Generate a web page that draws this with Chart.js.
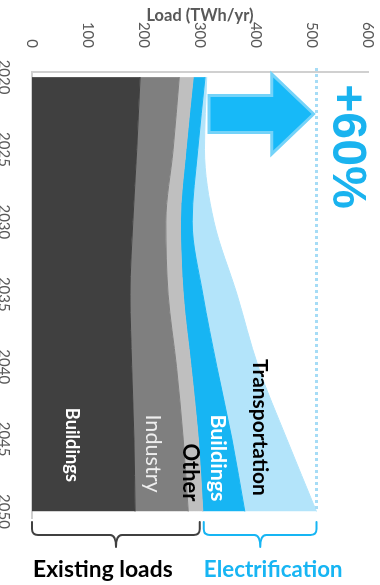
<!DOCTYPE html>
<html>
<head>
<meta charset="utf-8">
<title>Load growth 2020-2050</title>
<script src="https://cdn.jsdelivr.net/npm/chart.js@4.4.1/dist/chart.umd.min.js"></script>
<style>
  html, body { margin: 0; padding: 0; background: #fff; overflow: hidden; }
  /* the chart is drawn lying down (years left to right) and turned a quarter clockwise */
  #wrap {
    position: absolute; left: 0; top: 0;
    width: 585px; height: 380px;
    transform-origin: 0 0;
    transform: translate(380px, 0) rotate(90deg);
  }
</style>
</head>
<body>
<div id="wrap"><canvas id="chart" width="585" height="380"></canvas></div>
<script>
(function () {
  'use strict';

  // ----------------------------------------------------------
  // Data (TWh/yr)
  // ----------------------------------------------------------
  const years             = [2020, 2025, 2030, 2035, 2040, 2045, 2050];
  const existingBuildings = [193, 187, 180, 175, 178, 182, 184];
  const industry          = [70, 65, 59, 68, 80, 88, 95];
  const other             = [25, 23, 26, 27, 26, 27, 26];
  const electricBuildings = [21, 21, 21, 35, 46, 60, 75];
  const transportation    = [3, 12, 39, 61, 74, 98, 128];

  const yearTicks = [2020, 2025, 2030, 2035, 2040, 2045, 2050];
  const loadTicks = [0, 100, 200, 300, 400, 500, 600];

  const BLUE       = '#17b5f3';
  const LIGHT_BLUE = '#b3e4fa';
  const GRAY_TEXT  = '#595959';
  const FAMILY     = 'Lato, "Open Sans", sans-serif';

  const series = [
    { label: 'Buildings',      data: existingBuildings, color: '#404040' },
    { label: 'Industry',       data: industry,          color: '#7f7f7f' },
    { label: 'Other',          data: other,             color: '#bfbfbf' },
    { label: 'Buildings (el)', data: electricBuildings, color: BLUE },
    { label: 'Transportation', data: transportation,    color: LIGHT_BLUE },
  ];

  const last = years.length - 1;
  const existing2050 = existingBuildings[last] + industry[last] + other[last];
  const total2050    = existing2050 + electricBuildings[last] + transportation[last];

  // labels written inside the bands: centre (year, load) and text length in px
  const bandLabels = [
    { text: 'Buildings',      year: 2045.4, load: 71,  len: 74,  color: '#ffffff', weight: 'bold' },
    { text: 'Industry',       year: 2046.0, load: 216, len: 78,  color: '#eeeeee', weight: 'normal' },
    { text: 'Other',          year: 2047.3, load: 282, len: 58,  color: '#000000', weight: 'bold' },
    { text: 'Buildings',      year: 2046.3, load: 332, len: 87,  color: '#ffffff', weight: 'bold' },
    { text: 'Transportation', year: 2044.2, load: 407, len: 137, color: '#000000', weight: 'bold' },
  ];

  Chart.defaults.font.family = FAMILY;

  // ----------------------------------------------------------
  // Helpers
  // ----------------------------------------------------------

  // font string whose size makes `text` exactly `width` px long
  function fitFont(ctx, text, weight, family, width) {
    ctx.font = weight + ' 20px ' + family;
    const size = 20 * width / ctx.measureText(text).width;
    return weight + ' ' + size.toFixed(1) + 'px ' + family;
  }

  function brace(ctx, vFrom, vTo, color) {
    const a = 522, b = 535, c = 547, r = 6;
    const s  = vTo > vFrom ? 1 : -1;
    const vm = (vFrom + vTo) / 2;

    ctx.save();
    ctx.strokeStyle = color;
    ctx.lineWidth   = 2;
    ctx.lineCap     = 'round';
    ctx.lineJoin    = 'round';
    ctx.beginPath();
    ctx.moveTo(a, vFrom);
    ctx.lineTo(b - r, vFrom);
    ctx.quadraticCurveTo(b, vFrom, b, vFrom + s * r);
    ctx.lineTo(b, vm - s * r);
    ctx.quadraticCurveTo(b, vm, c, vm);
    ctx.quadraticCurveTo(b, vm, b, vm + s * r);
    ctx.lineTo(b, vTo - s * r);
    ctx.quadraticCurveTo(b, vTo, b - r, vTo);
    ctx.lineTo(a, vTo);
    ctx.stroke();
    ctx.restore();
  }

  // text that reads horizontally once the canvas is turned
  function uprightText(ctx, text, u, v, len, color) {
    ctx.save();
    ctx.translate(u, v);
    ctx.rotate(-Math.PI / 2);
    ctx.font         = fitFont(ctx, text, 'bold', FAMILY, len);
    ctx.fillStyle    = color;
    ctx.textAlign    = 'left';
    ctx.textBaseline = 'alphabetic';
    ctx.fillText(text, 0, 0);
    ctx.restore();
  }

  // ----------------------------------------------------------
  // Annotations: dotted target line, arrow, +60%, labels, braces
  // ----------------------------------------------------------
  const annotations = {
    id: 'annotations',
    afterDraw(chart) {
      const { ctx, chartArea } = chart;
      const x = chart.scales.x;
      const y = chart.scales.y;

      // dotted line at the 2050 total
      const vTotal = y.getPixelForValue(total2050);
      ctx.save();
      ctx.strokeStyle = '#a6dcf6';
      ctx.lineWidth   = 3;
      ctx.setLineDash([3, 3]);
      ctx.beginPath();
      ctx.moveTo(chartArea.left - 4, vTotal);
      ctx.lineTo(x.getPixelForValue(2050), vTotal);
      ctx.stroke();
      ctx.restore();

      // growth arrow
      const uc    = x.getPixelForValue(2022.55);
      const vTail = y.getPixelForValue(316);
      const vBase = y.getPixelForValue(428);
      const vTip  = y.getPixelForValue(503);
      ctx.save();
      ctx.fillStyle   = '#17b9f8';
      ctx.strokeStyle = '#74d3f9';
      ctx.lineWidth   = 3;
      ctx.lineJoin    = 'miter';
      ctx.beginPath();
      ctx.moveTo(uc - 18.5, vTail);
      ctx.lineTo(uc - 18.5, vBase);
      ctx.lineTo(uc - 40, vBase);
      ctx.lineTo(uc, vTip);
      ctx.lineTo(uc + 40, vBase);
      ctx.lineTo(uc + 18.5, vBase);
      ctx.lineTo(uc + 18.5, vTail);
      ctx.closePath();
      ctx.fill();
      ctx.stroke();
      ctx.restore();

      // +60%
      ctx.save();
      ctx.font         = fitFont(ctx, '+60%', 'bold', '"Liberation Sans", Arial, sans-serif', 125);
      ctx.fillStyle    = '#1ab3ef';
      ctx.textAlign    = 'center';
      ctx.textBaseline = 'middle';
      ctx.fillText('+60%', x.getPixelForValue(2024.8), y.getPixelForValue(561));
      ctx.restore();

      // band labels
      ctx.save();
      ctx.textAlign    = 'center';
      ctx.textBaseline = 'middle';
      bandLabels.forEach((l) => {
        ctx.font      = fitFont(ctx, l.text, l.weight, FAMILY, l.len);
        ctx.fillStyle = l.color;
        ctx.fillText(l.text, x.getPixelForValue(l.year), y.getPixelForValue(l.load));
      });
      ctx.restore();

      // braces under the 2050 end
      const v0     = y.getPixelForValue(0);
      const vSplit = y.getPixelForValue(existing2050);
      brace(ctx, v0, vSplit + 3, '#404040');
      brace(ctx, vSplit - 1, vTotal, BLUE);

      uprightText(ctx, 'Existing loads',  577, v0 - 1,     140, '#000000');
      uprightText(ctx, 'Electrification', 577, vSplit - 1, 139, BLUE);
    },
  };

  // ----------------------------------------------------------
  // Chart
  // ----------------------------------------------------------
  new Chart(document.getElementById('chart'), {
    type: 'line',
    data: {
      datasets: series.map((s, i) => ({
        label:                  s.label,
        data:                   years.map((yr, k) => ({ x: yr, y: s.data[k] })),
        backgroundColor:        s.color,
        borderColor:            s.color,
        borderWidth:            1,
        pointRadius:            0,
        fill:                   i === 0 ? 'origin' : '-1',
        cubicInterpolationMode: 'monotone',
      })),
    },
    options: {
      responsive: false,
      animation:  false,
      events:     [],
      layout: {
        padding: { top: 12, right: 67, bottom: 0, left: 0 },
      },
      plugins: {
        legend:  { display: false },
        tooltip: { enabled: false },
      },
      scales: {
        x: {
          type: 'linear',
          min:  2019.65,
          max:  2050.45,
          grid:   { display: false },
          border: { color: '#d0d0d0', width: 2 },
          afterBuildTicks: (s) => { s.ticks = yearTicks.map((v) => ({ value: v })); },
          ticks: {
            callback:    (v) => String(v),
            color:       GRAY_TEXT,
            font:        { size: 15 },
            padding:     11,
            maxRotation: 0,
            autoSkip:    false,
          },
          afterFit: (s) => {
            s.height = 32;
            s.paddingLeft = 0;
            s.paddingRight = 0;
          },
        },
        y: {
          stacked: true,
          min: 0,
          max: 600,
          grid:   { display: false },
          border: { color: '#d0d0d0', width: 2 },
          afterBuildTicks: (s) => { s.ticks = loadTicks.map((v) => ({ value: v })); },
          ticks: {
            color:   GRAY_TEXT,
            font:    { size: 15 },
            padding: 16,
          },
          title: {
            display: true,
            text:    'Load (TWh/yr)',
            color:   GRAY_TEXT,
            font:    { size: 16.5, weight: 'bold' },
            padding: { top: 6, bottom: 0 },
          },
          // fixed axis band; the outer layout padding keeps the end labels visible
          afterFit: (s) => {
            s.width = 72;
            s.paddingTop = 0;
            s.paddingBottom = 0;
          },
        },
      },
    },
    plugins: [annotations],
  });
})();
</script>
</body>
</html>
